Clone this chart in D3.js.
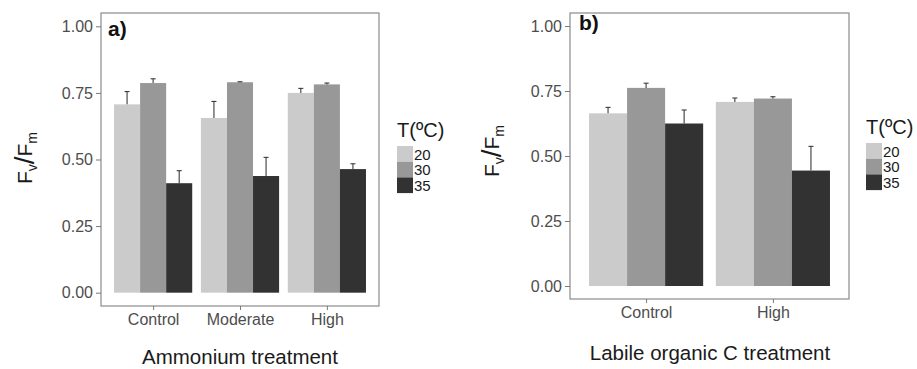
<!DOCTYPE html>
<html>
<head>
<meta charset="utf-8">
<script src="https://cdn.jsdelivr.net/npm/d3@7"></script>
<style>
  html, body { margin: 0; padding: 0; background: #fff; }
  svg { display: block; font-family: "Liberation Sans", Arial, sans-serif; }
</style>
</head>
<body>
<svg id="chart" width="917" height="369"></svg>
<script>
// Temperature levels (legend)
const tempLevels = ["20", "30", "35"];
const tempColors = ["#cbcbcb", "#989898", "#323232"];

// y-axis ticks
const yTicks = [0, 0.25, 0.5, 0.75, 1];

// Panel a: ammonium treatment, mean Fv/Fm and standard error per temperature
const ammoniumCats = ["Control", "Moderate", "High"];
const ammoniumMean20 = [0.707, 0.656, 0.750];
const ammoniumMean30 = [0.787, 0.790, 0.782];
const ammoniumMean35 = [0.411, 0.438, 0.464];
const ammoniumSE20 = [0.048, 0.062, 0.017];
const ammoniumSE30 = [0.016, 0.002, 0.005];
const ammoniumSE35 = [0.047, 0.070, 0.020];

// Panel b: labile organic C treatment
const carbonCats = ["Control", "High"];
const carbonMean20 = [0.664, 0.708];
const carbonMean30 = [0.762, 0.721];
const carbonMean35 = [0.625, 0.444];
const carbonSE20 = [0.023, 0.015];
const carbonSE30 = [0.018, 0.007];
const carbonSE35 = [0.052, 0.093];

const svg = d3.select("#chart");

function drawPanel(opt) {
  const { left, right, top, bottom, cats, means, ses, tag, tagX, tagY,
          xTitle, xTitleX, xTitleY, yLabelX, yLabelY, legendX, legendY } = opt;
  const g = svg.append("g");

  const y = d3.scaleLinear().domain([-0.05, 1.05]).range([bottom, top]);
  const x = d3.scalePoint().domain(cats).range([left, right]).padding(0.6);
  const groupW = x.step() * 0.9;
  const inner = d3.scaleBand().domain(tempLevels).range([-groupW / 2, groupW / 2]).padding(0);

  const rowsFor = ti => cats.map((c, ci) => ({ c, m: means[ti][ci], se: ses[ti][ci] }));

  // bars
  tempLevels.forEach((t, ti) => {
    g.selectAll(null).data(rowsFor(ti)).enter().append("rect")
      .attr("x", d => x(d.c) + inner(t))
      .attr("width", inner.bandwidth())
      .attr("y", d => y(d.m))
      .attr("height", d => y(0) - y(d.m))
      .attr("fill", tempColors[ti]);
  });

  // upper error bars (mean to mean + SE)
  tempLevels.forEach((t, ti) => {
    const cx = d => x(d.c) + inner(t) + inner.bandwidth() / 2;
    const eb = g.selectAll(null).data(rowsFor(ti)).enter().append("g")
      .attr("stroke", "#3a3a3a").attr("stroke-width", 1.1);
    eb.append("line")
      .attr("x1", cx).attr("x2", cx)
      .attr("y1", d => y(d.m)).attr("y2", d => y(d.m + d.se));
    eb.append("line")
      .attr("x1", d => cx(d) - 2.5).attr("x2", d => cx(d) + 2.5)
      .attr("y1", d => y(d.m + d.se)).attr("y2", d => y(d.m + d.se));
  });

  // panel border
  g.append("rect")
    .attr("x", left).attr("y", top)
    .attr("width", right - left).attr("height", bottom - top)
    .attr("fill", "none").attr("stroke", "#8a8a8a").attr("stroke-width", 1.2);

  // y axis
  const yAxis = d3.axisLeft(y).tickValues(yTicks).tickFormat(d3.format(".2f")).tickSize(5).tickPadding(3);
  const ya = g.append("g").attr("transform", `translate(${left},0)`).call(yAxis);
  ya.select(".domain").remove();
  ya.selectAll(".tick line").attr("stroke", "#7a7a7a");
  ya.selectAll(".tick text").attr("fill", "#4d4d4d").style("font-size", "16px");

  // x axis
  const xAxis = d3.axisBottom(x).tickSize(4).tickPadding(4);
  const xa = g.append("g").attr("transform", `translate(0,${bottom})`).call(xAxis);
  xa.select(".domain").remove();
  xa.selectAll(".tick line").attr("stroke", "#7a7a7a");
  xa.selectAll(".tick text").attr("fill", "#4d4d4d").style("font-size", "16px");

  // panel tag
  g.append("text").attr("x", tagX).attr("y", tagY)
    .attr("font-weight", "bold").style("font-size", "21px").attr("fill", "#111")
    .text(tag);

  // x title
  g.append("text").attr("x", xTitleX).attr("y", xTitleY)
    .attr("text-anchor", "middle").style("font-size", "20.5px").attr("fill", "#1a1a1a")
    .text(xTitle);

  // y title: F_v / F_m
  const yl = g.append("text")
    .attr("transform", `translate(${yLabelX},${yLabelY}) rotate(-90)`)
    .attr("text-anchor", "middle").style("font-size", "21px").attr("fill", "#1a1a1a");
  yl.append("tspan").text("F");
  yl.append("tspan").attr("dy", 5).style("font-size", "14px").text("v");
  yl.append("tspan").attr("dy", -3).style("font-size", "28px").text("/");
  yl.append("tspan").attr("dy", -2).text("F");
  yl.append("tspan").attr("dy", 5).style("font-size", "14px").text("m");

  // legend
  const lg = g.append("g").attr("transform", `translate(${legendX},${legendY})`);
  lg.append("text").attr("x", 0).attr("y", -9).style("font-size", "20px").attr("fill", "#1a1a1a").text("T(ºC)");
  tempLevels.forEach((t, i) => {
    lg.append("rect").attr("x", 0).attr("y", i * 15.7).attr("width", 16).attr("height", 15.7).attr("fill", tempColors[i]);
    lg.append("text").attr("x", 17).attr("y", i * 15.7 + 13.5).style("font-size", "15px").attr("fill", "#1a1a1a").text(t);
  });
}

drawPanel({
  left: 101, right: 379, top: 13, bottom: 306,
  cats: ammoniumCats,
  means: [ammoniumMean20, ammoniumMean30, ammoniumMean35],
  ses: [ammoniumSE20, ammoniumSE30, ammoniumSE35],
  tag: "a)", tagX: 108, tagY: 36,
  xTitle: "Ammonium treatment", xTitleX: 240, xTitleY: 364,
  yLabelX: 32, yLabelY: 158, legendX: 397, legendY: 146
});

drawPanel({
  left: 570, right: 849, top: 13, bottom: 299,
  cats: carbonCats,
  means: [carbonMean20, carbonMean30, carbonMean35],
  ses: [carbonSE20, carbonSE30, carbonSE35],
  tag: "b)", tagX: 579, tagY: 30,
  xTitle: "Labile organic C treatment", xTitleX: 710, xTitleY: 360,
  yLabelX: 499, yLabelY: 151, legendX: 866, legendY: 143
});
</script>
</body>
</html>
